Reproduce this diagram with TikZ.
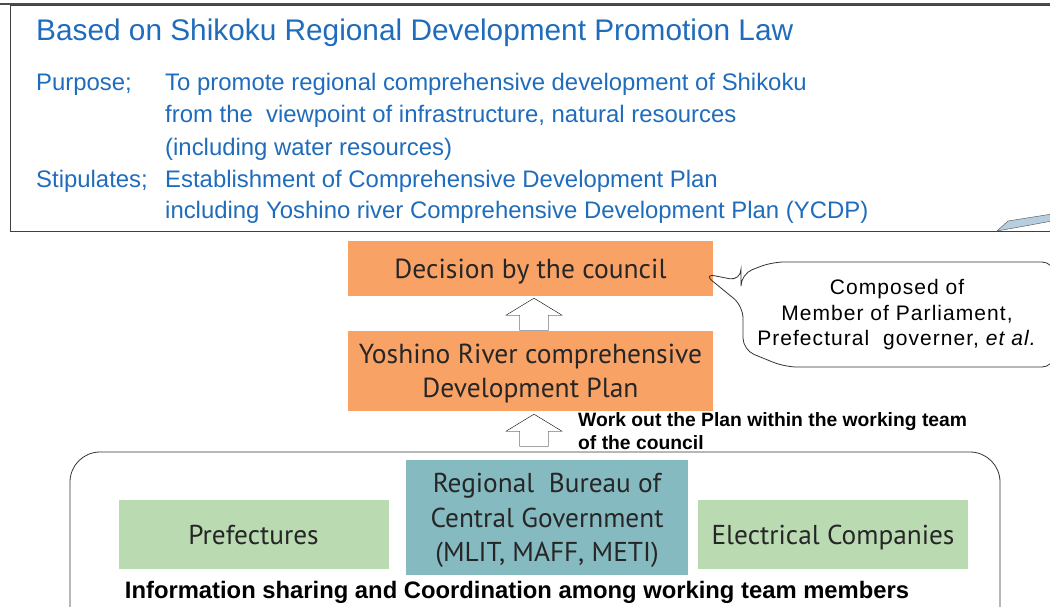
\documentclass[tikz,border=0pt]{standalone}
\usepackage{fontspec}
\setmainfont{Liberation Sans}
\newfontfamily\myriadlike{PT Sans}
\usetikzlibrary{positioning,calc}
\definecolor{lawblue}   {RGB}{ 32,108,188}
\definecolor{planorange}{RGB}{248,162,102}
\definecolor{memgreen}  {RGB}{186,218,178}
\definecolor{govteal}   {RGB}{134,186,193}
\definecolor{tipblue}   {RGB}{182,206,222}

\begin{document}
\begin{tikzpicture}[x=1pt, y=-1pt,
    lawtext/.style={anchor=base west, inner sep=0pt, text=lawblue, font=\fontsize{23.9}{27}\selectfont},
    plan/.style={fill=planorange, minimum width=365pt, align=center, text=black!85, text depth=0pt, font=\myriadlike\fontsize{27.5}{34}\selectfont},
    member/.style={fill=memgreen, minimum width=270pt, minimum height=69pt, align=center, text=black!85, text depth=0pt, font=\myriadlike\fontsize{27.3}{34.5}\selectfont},
    hollowup/.pic={\draw[fill=white] (0,0) -- (28,17) -- (14.5,17) -- (14.5,32) -- (-14.5,32) -- (-14.5,17) -- (-28,17) -- cycle;},
    note/.style={anchor=base west, inner sep=0pt, align=left, font=\bfseries\fontsize{19.3}{23}\selectfont},
    balloon/.style={draw, thick, black!80, rounded corners=12pt}
]
    \useasboundingbox (0,0) rectangle (1050,606);
    \clip (0,0) rectangle (1050,606);

    % law frame
    \draw[black!75, thick] (10,5) rectangle (1080,231);
    \draw[black!70, line width=2pt] (0,4) -- (1050,4);
    \draw[black!70, fill=tipblue] (997,231) -- (1008,221) -- (1052,214) -- (1052,221) -- (1025,226) -- cycle;
    \node[lawtext, font=\fontsize{29.8}{32}\selectfont] (law) at (36,40) {Based on Shikoku Regional Development Promotion Law};
    \node[lawtext] (purpose) at (36,90) {Purpose;};
    \node[lawtext] (purp1) at (165,90) {To promote regional comprehensive development of Shikoku};
    \node[lawtext] (purp2) at (165,122) {from the\ \ viewpoint of infrastructure, natural resources};
    \node[lawtext] (purp3) at (165,155) {(including water resources)};
    \node[lawtext] (stip) at (36,187) {Stipulates;};
    \node[lawtext] (stip1) at (165,187) {Establishment of Comprehensive Development Plan};
    \node[lawtext] (stip2) at (165,218) {including Yoshino river Comprehensive Development Plan (YCDP)};

    % council and plan
    \node[plan, minimum height=55pt] (decision) at (530.5,268.5) {Decision by the council};
    \node[plan, minimum height=80pt] (ycdp) at (530.5,371) {Yoshino River comprehensive\\Development Plan};
    \pic at ($(decision.south)+(3.5,2)$) {hollowup};

    % balloon
    \coordinate (tip) at ($(decision.east)+(-10,5)$);
    \draw[balloon] (741,281) -- (tip) -- (743,306) -- (743,350) -- (785,367) -- (1054,367) -- (1054,262) -- (772,262) -- (741,274) -- cycle;
    \node[align=center, font=\addfontfeature{LetterSpace=5}\fontsize{21}{25.5}\selectfont] (composed) at (897,315) {Composed of\\Member of Parliament,\\Prefectural\ \ governer, \textit{et al.}};

    % working team
    \node[draw, thick, black!80, rounded corners=30pt, minimum width=930pt, minimum height=200pt] (team) at (535,552) {};
    \pic at ($(ycdp.south)+(3.5,3)$) {hollowup};
    \node[note] (workout) at (578,449) {Work out the Plan within the working team\\of the council};
    \node[member] (pref) at (253.5,534.5) {Prefectures};
    \node[member, fill=govteal, minimum width=282pt, minimum height=115pt] (bureau) at (547,517.5) {Regional\ \ Bureau of\\Central Government\\(MLIT, MAFF, METI)};
    \node[member] (elec) at (833,534.5) {Electrical Companies};
    \node[font=\bfseries\fontsize{23.8}{26}\selectfont] (info) at (517,592) {Information sharing and Coordination among working team members};
\end{tikzpicture}
\end{document}
